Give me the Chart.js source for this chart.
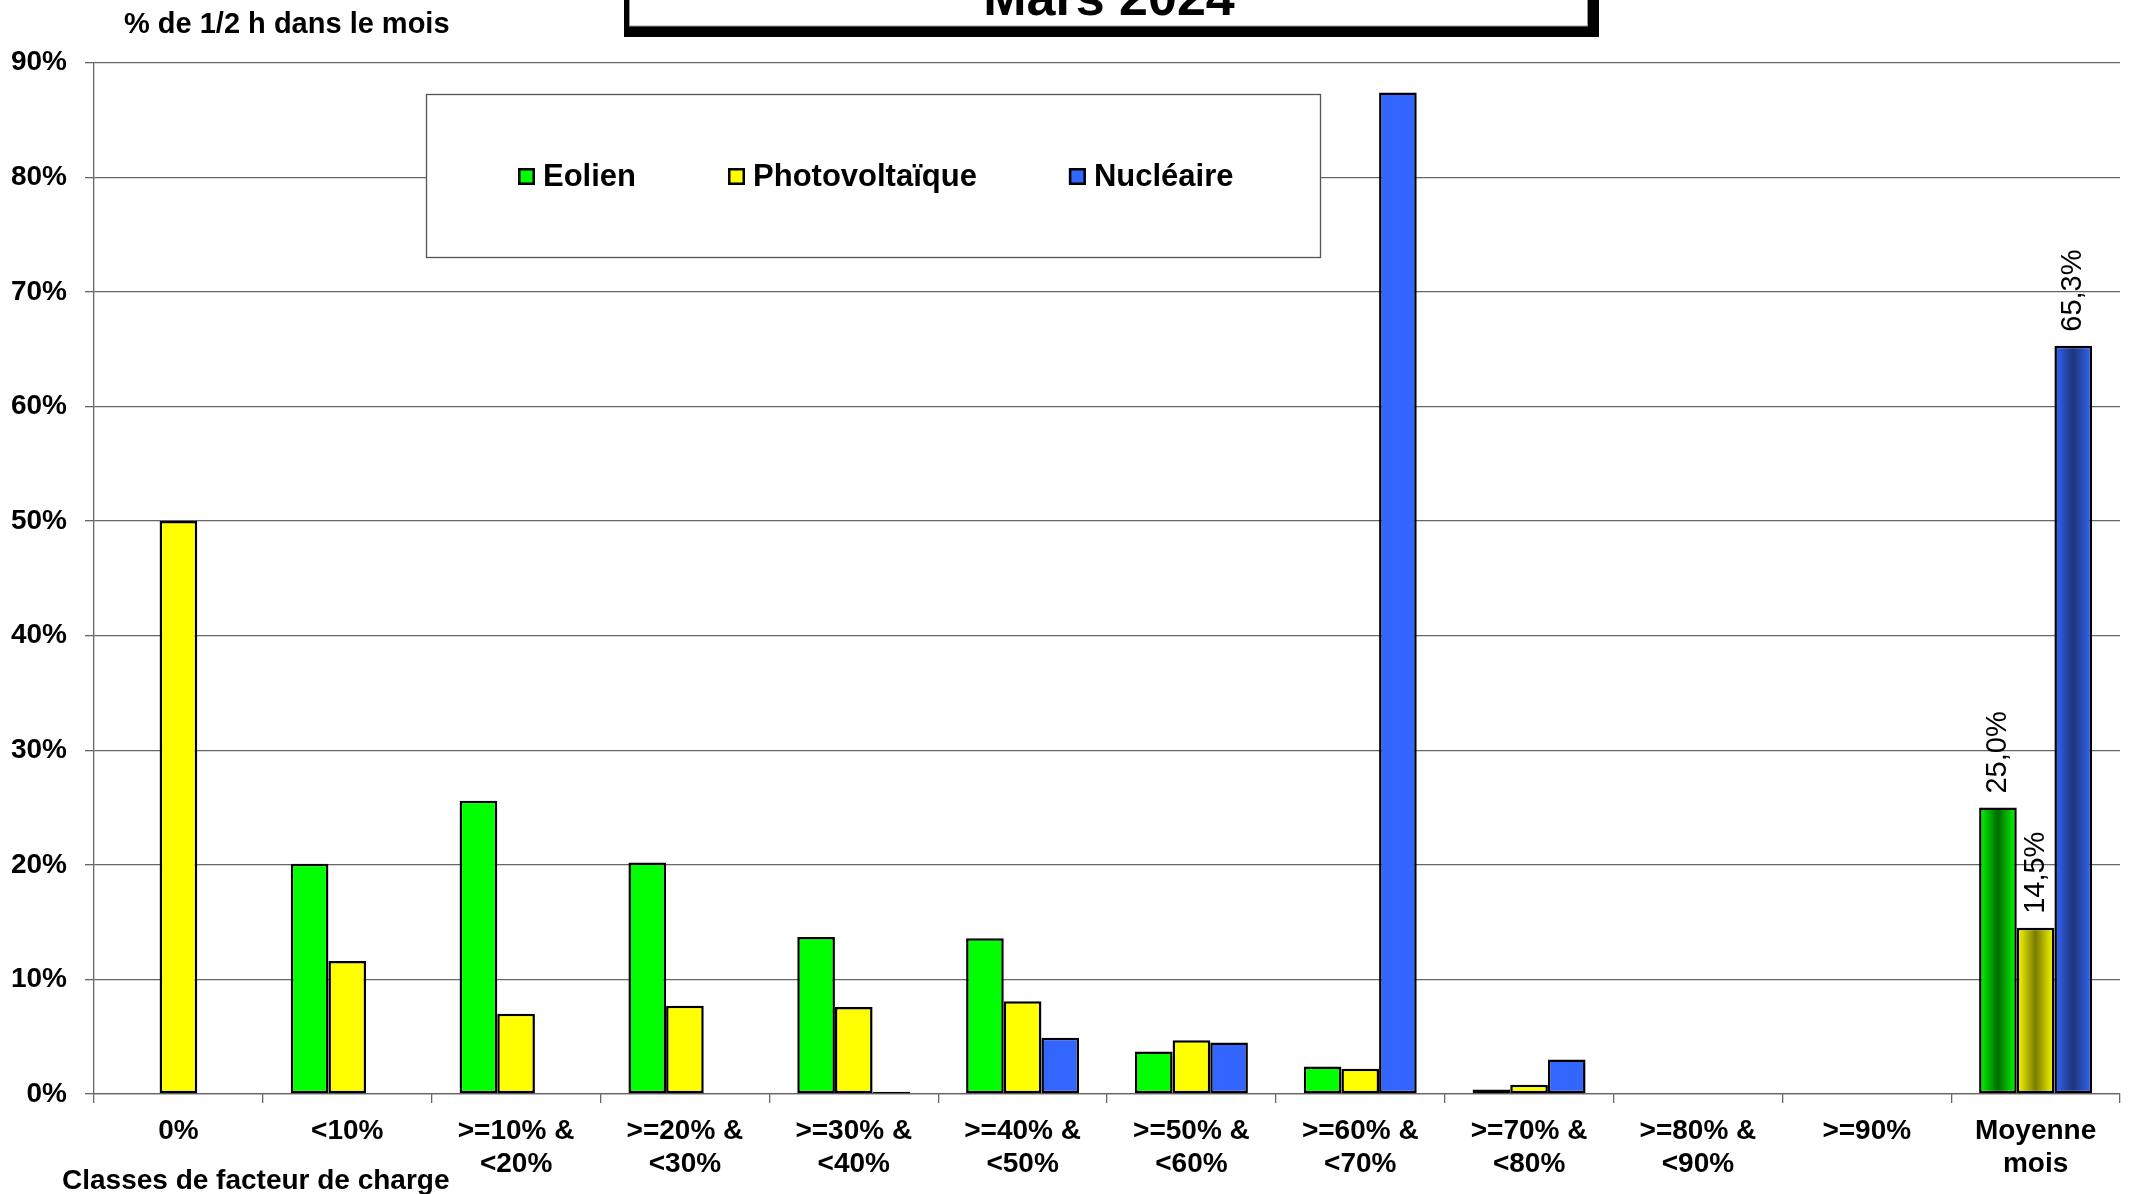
<!DOCTYPE html>
<html>
<head>
<meta charset="utf-8">
<title>Facteur de charge - Mars 2024</title>
<script src="https://cdn.jsdelivr.net/npm/chart.js@4.4.1/dist/chart.umd.min.js"></script>
<style>
    html, body { margin: 0; padding: 0; background: #fff; }
    #wrap { width: 2135px; height: 1194px; }
</style>
</head>
<body>
<div id="wrap"><canvas id="myChart" width="2135" height="1194"></canvas></div>
<script>
    "use strict";
    // values (% of half-hours in the month)
    var categories = ['0%', '<10%', ['>=10% &', '<20%'], ['>=20% &', '<30%'], ['>=30% &', '<40%'],
        ['>=40% &', '<50%'], ['>=50% &', '<60%'], ['>=60% &', '<70%'], ['>=70% &', '<80%'],
        ['>=80% &', '<90%'], '>=90%', ['Moyenne', 'mois']];
    var eolien = [0, 20.1, 25.6, 20.2, 13.7, 13.6, 3.7, 2.4, 0.4, 0, 0, 25.0];
    var photovoltaique = [50.0, 11.6, 7.0, 7.7, 7.6, 8.1, 4.7, 2.2, 0.8, 0, 0, 14.5];
    var nucleaire = [0, 0, 0, 0, 0.2, 4.9, 4.5, 87.4, 3.0, 0, 0, 65.3];
    var seriesNames = ['Eolien', 'Photovoltaïque', 'Nucléaire'];
    var seriesColors = ['#00ff00', '#ffff00', '#3366ff'];
    var seriesDark = ['#006a00', '#7a7a00', '#1e3578'];

    var chartTitle = 'Mars 2024';
    var yTitle = '% de 1/2 h dans le mois';
    var xTitle = 'Classes de facteur de charge';

    var FONT = "'Liberation Sans', Arial, sans-serif";
    var CAT_PCT = 0.669;
    var LAST = categories.length - 1;

    Chart.defaults.font.family = FONT;
    Chart.defaults.color = '#000';

    // shaded fill for the "Moyenne mois" bars, plain colour elsewhere
    function barFill(i) {
        return function (c) {
            var chart = c.chart;
            if (c.type !== 'data' || c.dataIndex !== LAST || !chart.chartArea) return seriesColors[i];
            var xs = chart.scales.x;
            var span = xs.width / categories.length * CAT_PCT;
            var slot = span / seriesNames.length;
            var left = xs.getPixelForValue(c.dataIndex) - span / 2 + slot * i;
            var g = chart.ctx.createLinearGradient(left, 0, left + slot, 0);
            g.addColorStop(0, seriesColors[i]);
            g.addColorStop(0.5, seriesDark[i]);
            g.addColorStop(1, seriesColors[i]);
            return g;
        };
    }

    var decorations = {
        id: 'decorations',
        afterDatasetsDraw: function (chart) {
            var ctx = chart.ctx;
            ctx.save();
            ctx.fillStyle = '#000';
            ctx.font = '29px ' + FONT;
            ctx.textAlign = 'left';
            ctx.textBaseline = 'middle';
            chart.data.datasets.forEach(function (ds, i) {
                var el = chart.getDatasetMeta(i).data[LAST];
                var txt = ds.data[LAST].toFixed(1).replace('.', ',') + '%';
                ctx.save();
                ctx.translate(el.x, el.y - 14);
                ctx.rotate(-Math.PI / 2);
                ctx.fillText(txt, 0, 0);
                ctx.restore();
            });
            ctx.restore();
        },
        afterDraw: function (chart) {
            var ctx = chart.ctx;
            ctx.save();

            // title frame, cut by the top edge
            ctx.fillStyle = '#000';
            ctx.fillRect(624, -10, 975, 47);
            ctx.fillStyle = '#fff';
            ctx.fillRect(629, -10, 959, 36);
            ctx.strokeStyle = '#999';
            ctx.lineWidth = 1;
            ctx.strokeRect(629.5, -10, 958, 36);
            ctx.fillStyle = '#000';
            ctx.font = 'bold 52px ' + FONT;
            ctx.textAlign = 'center';
            ctx.textBaseline = 'alphabetic';
            ctx.fillText(chartTitle, 1109, 15);

            // axis titles
            ctx.textAlign = 'left';
            ctx.font = 'bold 29px ' + FONT;
            ctx.fillText(yTitle, 124, 33);
            ctx.font = 'bold 28px ' + FONT;
            ctx.fillText(xTitle, 62, 1189);

            // legend box
            ctx.fillStyle = '#fff';
            ctx.fillRect(426, 94, 895, 164);
            ctx.strokeStyle = '#555';
            ctx.lineWidth = 1.3;
            ctx.strokeRect(426.5, 94.5, 894, 163);
            ctx.font = 'bold 31px ' + FONT;
            var x = 518;
            chart.data.datasets.forEach(function (ds, i) {
                ctx.fillStyle = seriesColors[i];
                ctx.fillRect(x, 168, 17, 17);
                ctx.strokeStyle = '#000';
                ctx.lineWidth = 2.5;
                ctx.strokeRect(x + 1.25, 169.25, 14.5, 14.5);
                ctx.fillStyle = '#000';
                ctx.fillText(ds.label, x + 25, 186);
                x += 25 + ctx.measureText(ds.label).width + 92;
            });
            ctx.restore();
        }
    };

    var datasets = [eolien, photovoltaique, nucleaire].map(function (values, i) {
        return {
            label: seriesNames[i],
            data: values,
            backgroundColor: barFill(i),
            borderColor: '#000',
            borderWidth: 2.5,
            borderSkipped: false,
            categoryPercentage: CAT_PCT,
            barPercentage: 1.0
        };
    });

    var myChart = new Chart(document.getElementById('myChart'), {
        type: 'bar',
        data: { labels: categories, datasets: datasets },
        options: {
            responsive: false,
            animation: false,
            devicePixelRatio: 1,
            layout: { padding: { top: 62.7, right: 15, left: 0, bottom: 0 } },
            plugins: { legend: { display: false }, tooltip: { enabled: false } },
            scales: {
                x: {
                    grid: { offset: true, drawOnChartArea: false, drawTicks: true, tickLength: 9, color: '#666', lineWidth: 1.3 },
                    border: { display: true, color: '#666', width: 1.3 },
                    ticks: { color: '#000', font: { size: 28, weight: 'bold', lineHeight: 1.18 }, padding: 12, maxRotation: 0, autoSkip: false },
                    afterFit: function (s) { s.height = 100; }
                },
                y: {
                    min: 0,
                    max: 90,
                    ticks: {
                        stepSize: 10,
                        color: '#000',
                        padding: 18,
                        font: { size: 28, weight: 'bold' },
                        callback: function (v) { return v + '%'; }
                    },
                    grid: { color: '#666', lineWidth: 1.3, tickLength: 9 },
                    border: { color: '#666', width: 1.3 },
                    afterFit: function (s) { s.width = 94; }
                }
            }
        },
        plugins: [decorations]
    });
</script>
</body>
</html>
